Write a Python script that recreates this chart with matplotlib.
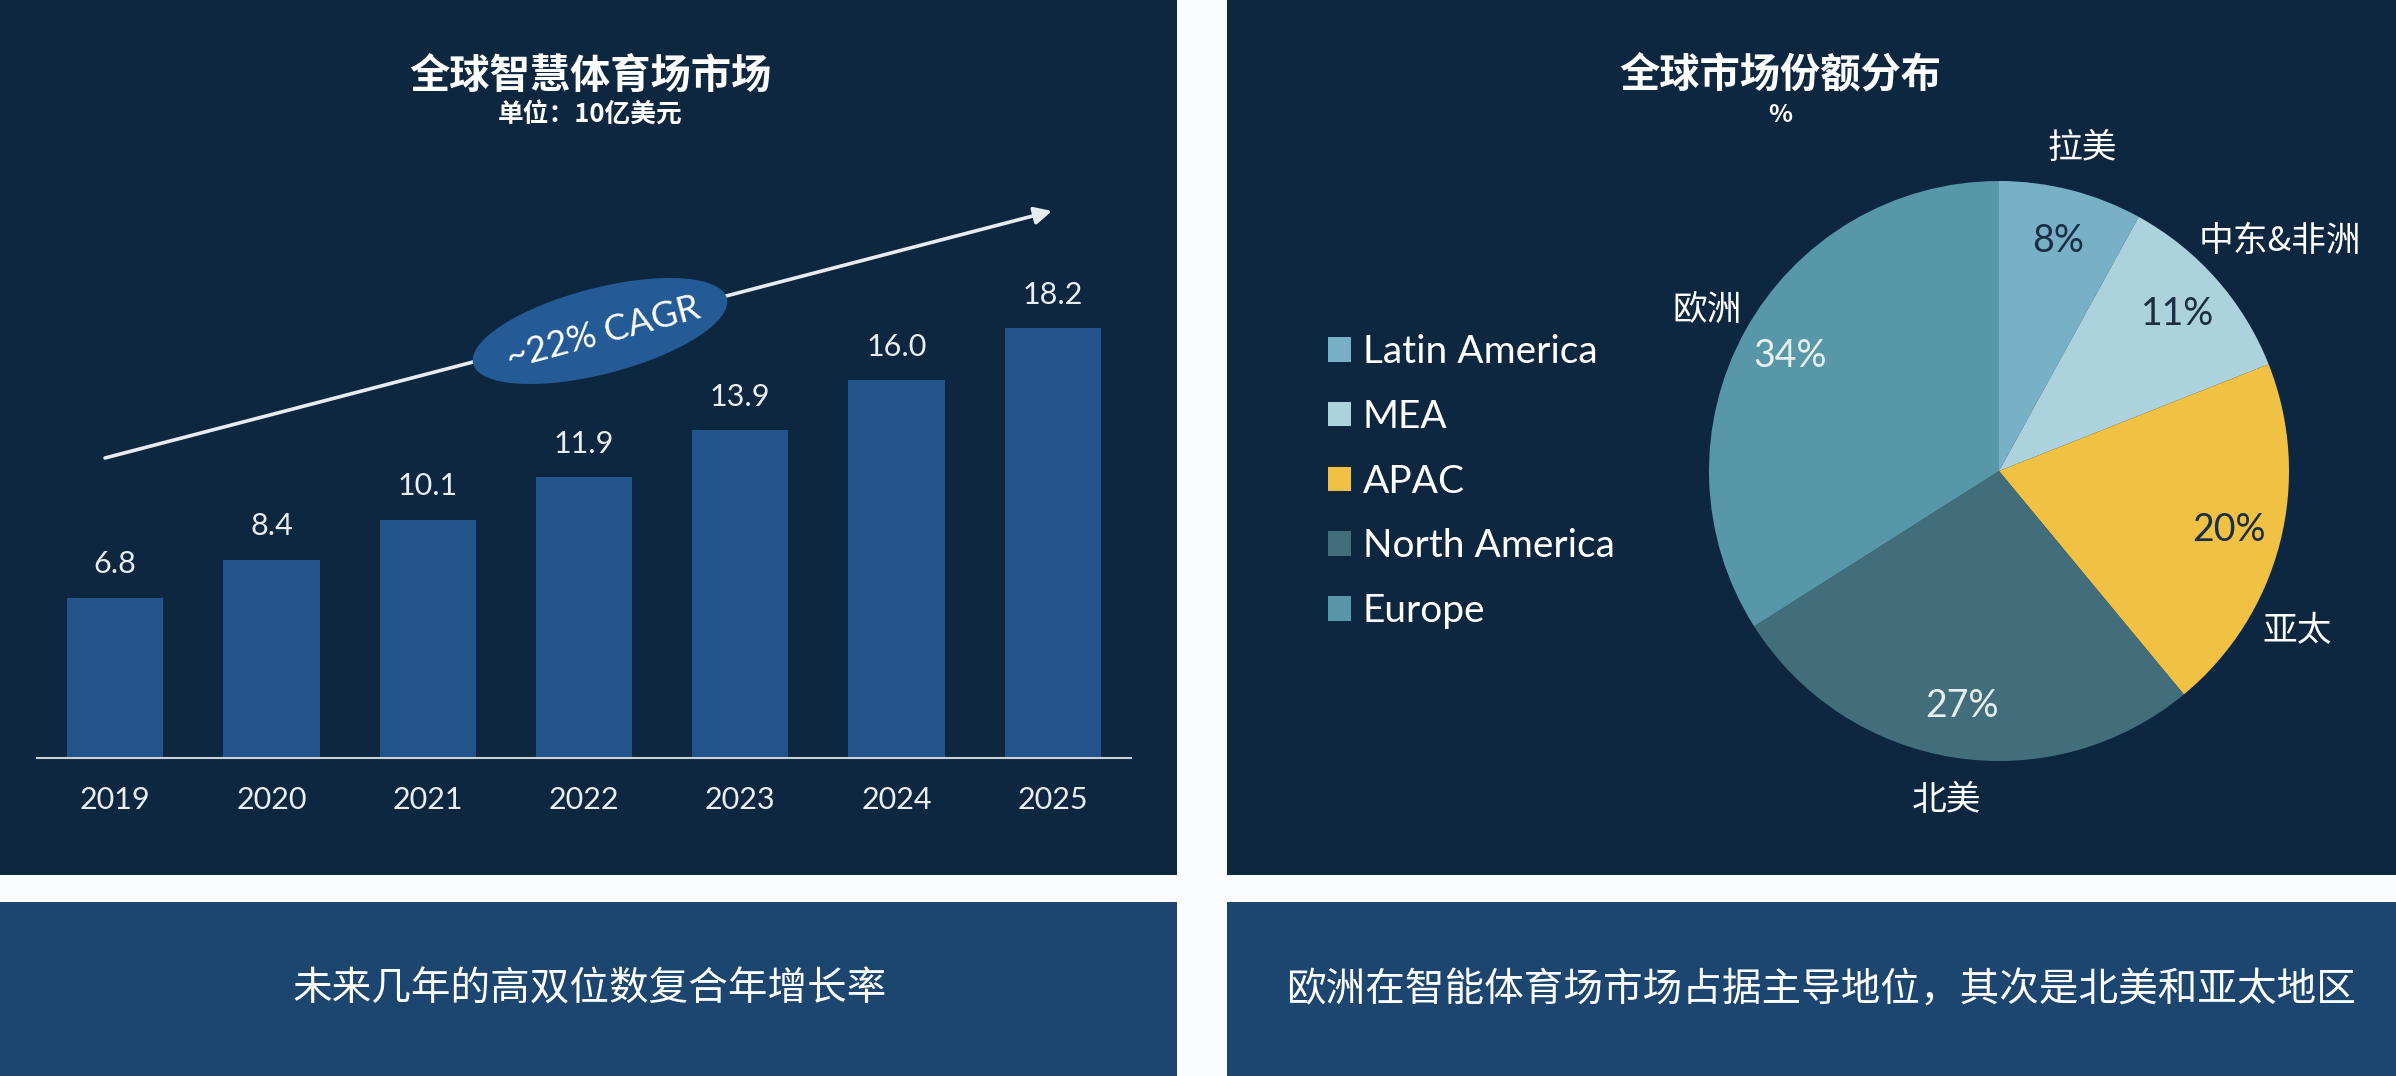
import matplotlib
matplotlib.use("Agg")
import matplotlib.pyplot as plt
from matplotlib.patches import Rectangle, Ellipse, Patch

# ---------------- data ----------------
years = ["2019", "2020", "2021", "2022", "2023", "2024", "2025"]
market_size = [6.8, 8.4, 10.1, 11.9, 13.9, 16.0, 18.2]

regions_en = ["Latin America", "MEA", "APAC", "North America", "Europe"]
regions_cn = ["拉美", "中东&非洲", "亚太", "北美", "欧洲"]
shares = [8, 11, 20, 27, 34]

left_title = "全球智慧体育场市场"
left_subtitle = "单位：10亿美元"
right_title = "全球市场份额分布"
right_subtitle = "%"
cagr_text = "~22% CAGR"
left_note = "未来几年的高双位数复合年增长率"
right_note = "欧洲在智能体育场市场占据主导地位，其次是北美和亚太地区"

# ---------------- style ----------------
W, H = 2396, 1076
NAVY = "#0e2740"
PANEL2 = "#1c4570"
BAR = "#22538a"
ELLIPSE = "#245b96"
pie_colors = ["#78b1c5", "#acd3dd", "#f0c143", "#426e7b", "#5797a8"]
pct_colors = ["#1b2e44", "#1b2e44", "#1b2e44", "#e8f0f2", "#e8f0f2"]
LAT = ["Lato", "Noto Sans CJK SC", "DejaVu Sans"]
CJK = ["Noto Sans CJK SC", "DejaVu Sans"]

plt.rcParams["font.family"] = LAT

fig = plt.figure(figsize=(W / 100, H / 100), dpi=100, facecolor="#fbfcfd")

# background layer in pixel coordinates
bg = fig.add_axes([0, 0, 1, 1], zorder=0)
bg.set_xlim(0, W)
bg.set_ylim(H, 0)
bg.axis("off")
for (x0, y0, w, h, c) in [(0, 0, 1177, 875, NAVY), (1227, 0, 1169, 875, NAVY),
                          (0, 902, 1177, 174, PANEL2), (1227, 902, 1169, 174, PANEL2)]:
    bg.add_patch(Rectangle((x0, y0), w, h, facecolor=c, edgecolor="none"))

# titles
bg.text(590, 76, left_title, family=CJK, fontsize=29, fontweight="bold", color="white",
        ha="center", va="center")
bg.text(590, 115, left_subtitle, family=CJK, fontsize=18.5, fontweight="bold", color="white",
        ha="center", va="center")
bg.text(1780, 76, right_title, family=CJK, fontsize=29, fontweight="bold", color="white",
        ha="center", va="center")
bg.text(1780, 115, right_subtitle, family=CJK, fontsize=18, fontweight="bold", color="white",
        ha="center", va="center")

# bottom notes
bg.text(590, 990, left_note, family=CJK, fontsize=28.5, fontweight="light", color="white",
        ha="center", va="center")
bg.text(1821, 990, right_note, family=CJK, fontsize=28.5, fontweight="light", color="white",
        ha="center", va="center")

# CAGR arrow + ellipse
bg.annotate("", xy=(1052, 211), xytext=(105, 458),
            arrowprops=dict(arrowstyle="-|>", color="#e6ecf0", lw=2.6, mutation_scale=26,
                            shrinkA=0, shrinkB=0), zorder=2)
bg.add_patch(Ellipse((600, 331), width=262, height=86, angle=-14.5, facecolor=ELLIPSE,
                     edgecolor="none", zorder=3))
bg.text(603, 333, cagr_text, fontsize=26, color="white", rotation=15, rotation_mode="anchor",
        ha="center", va="center", zorder=4)

# ---------------- bar chart ----------------
base_y = 758
px_per_unit = 23.6
ax_h = 500
ax = fig.add_axes([37 / W, (H - base_y) / H, (1131 - 37) / W, ax_h / H], zorder=1)
ax.set_facecolor("none")
x = list(range(len(years)))
ax.bar(x, market_size, width=0.617, color=BAR, zorder=2)
ax.set_xlim(-0.5, 6.5)
ax.set_ylim(0, ax_h / px_per_unit)
for s in ["top", "left", "right"]:
    ax.spines[s].set_visible(False)
ax.spines["bottom"].set_color("#c9d1d9")
ax.spines["bottom"].set_linewidth(1.5)
ax.set_yticks([])
ax.set_xticks(x)
ax.set_xticklabels(years, fontsize=22, color="#e9eef2")
ax.tick_params(axis="x", length=0, pad=20.5)
for xi, v in zip(x, market_size):
    ax.annotate(f"{v:.1f}", xy=(xi, v), xytext=(0, 24), textcoords="offset points",
                ha="center", va="center", fontsize=22, color="#e9eef2")

# ---------------- pie chart ----------------
cx, cy, R = 1999, 471, 290
axp = fig.add_axes([(cx - R) / W, (H - cy - R) / H, 2 * R / W, 2 * R / H], zorder=1)
wedges, texts, autotexts = axp.pie(
    shares, colors=pie_colors, startangle=90, counterclock=False,
    labels=regions_cn, labeldistance=1.15, autopct="%.0f%%", pctdistance=0.82,
    wedgeprops=dict(edgecolor="none"),
    textprops=dict(fontsize=25, color="white"))
axp.set_xlim(-1, 1)
axp.set_ylim(-1, 1)
for t in texts:
    t.set_ha("center")
    t.set_va("center")
    t.set_family(CJK)
texts[1].set_position((0.97, 0.79))
texts[2].set_position((1.03, -0.55))
for t, c in zip(autotexts, pct_colors):
    t.set_color(c)
    t.set_fontsize(27)
    t.set_family(LAT)

# legend
handles = [Patch(facecolor=c, edgecolor="none") for c in pie_colors]
fig.legend(handles, regions_en, loc="upper left",
           bbox_to_anchor=(1328 / W, 1 - 334 / H), frameon=False, fontsize=28,
           handlelength=0.59, handleheight=0.59, handletextpad=0.31, labelspacing=0.74,
           borderpad=0, borderaxespad=0, labelcolor="white")

fig.savefig("out.png", dpi=100, facecolor=fig.get_facecolor())
